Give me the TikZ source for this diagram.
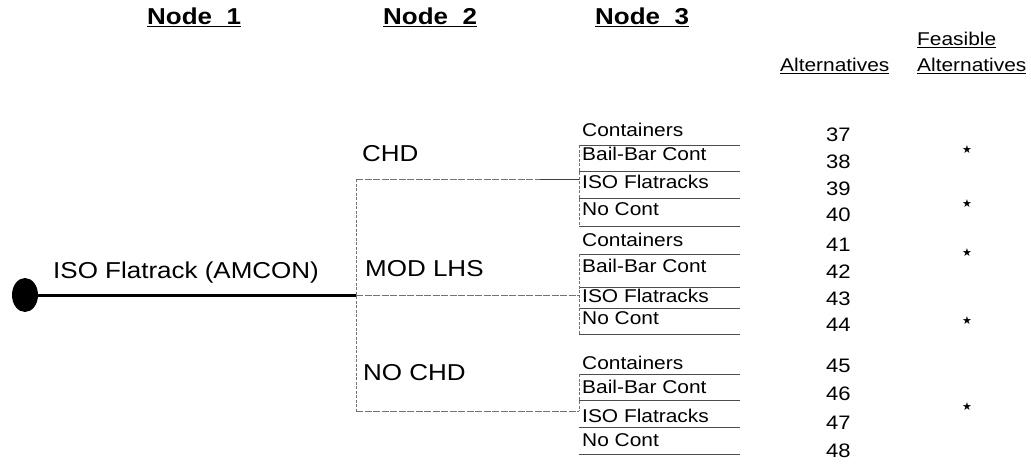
\documentclass[tikz,border=0pt]{standalone}
\usepackage{fontspec}
\setmainfont{Liberation Sans}[FakeStretch=1.13]
\newfontfamily\symf{DejaVu Sans}
\usetikzlibrary{shapes.geometric}
\begin{document}
\begin{tikzpicture}[x=1pt,y=-1pt,
  lbl/.style={inner sep=0pt, text height=0.716em, text depth=0pt, anchor=west},
  big/.style={lbl, font=\fontsize{23}{28}\selectfont},
  hdr/.style={lbl, font=\bfseries\fontsize{23}{28}\selectfont},
  sub/.style={lbl, font=\fontsize{18.5}{22}\selectfont},
  num/.style={lbl, font=\fontsize{19.5}{24}\selectfont},
  colh/.style={lbl, font=\fontsize{18.5}{22}\selectfont},
  starmark/.style={inner sep=0pt, font=\symf\fontsize{11}{12}\selectfont},
  branch/.style={draw=black!55, line width=0.7pt, dash pattern=on 7pt off 1.5pt},
  branchend/.style={draw=black!75, line width=0.8pt},
  stem/.style={draw=black!55, line width=0.6pt, dash pattern=on 3pt off 1.5pt},
  rulel/.style={draw=black!70, line width=0.7pt},
  trunk/.style={draw=black, line width=3pt},
]
\useasboundingbox (0,0) rectangle (1031,466);

% headers
\node[hdr] (h1) at (147,21) {\underline{Node~~1}};
\node[hdr] (h2) at (383,21) {\underline{Node~~2}};
\node[hdr] (h3) at (595,21) {\underline{Node~~3}};
\node[colh] (alt) at (780,68) {\underline{Alternatives}};
\node[colh] (fea) at (917,42) {\underline{Feasible}};
\node[colh] (falt) at (917,68) {\underline{Alternatives}};

% node 1
\node[ellipse, fill=black, inner sep=0pt, minimum width=26pt, minimum height=34pt] (dot) at (25,295) {};
\node[big] (n1) at (53,275) {ISO Flatrack (AMCON)};
\coordinate (j) at (356,295);
\draw[trunk] (dot) -- (j);

% node 2
\node[big] (chd) at (362,158) {CHD};
\node[big] (mod) at (365,273) {MOD LHS};
\node[big] (nochd) at (363,377) {NO CHD};
\coordinate (jt) at (356,179);
\coordinate (jb) at (356,411);
\coordinate (g1) at (579,179);
\coordinate (g1m) at (540,179);
\coordinate (g2) at (579,295);
\coordinate (g3) at (579,411);
\draw[stem] (jt) -- (jb);
\draw[branch] (jt) -- (g1m);
\draw[branchend] (g1m) -- (g1);
\draw[branch] (j) -- (g2);
\draw[branch] (jb) -- (g3);

% node 3 group 1
\node[sub] (a1) at (582,133) {Containers};
\node[sub] (a2) at (582,157) {Bail-Bar Cont};
\node[sub] (a3) at (582,185) {ISO Flatracks};
\node[sub] (a4) at (582,212) {No Cont};
\foreach \yy in {145,171,198,226} \draw[rulel] (579,\yy) -- (740,\yy);
\draw[stem] (579,145) -- (579,226);

% group 2
\node[sub] (b1) at (582,243) {Containers};
\node[sub] (b2) at (582,269) {Bail-Bar Cont};
\node[sub] (b3) at (582,299) {ISO Flatracks};
\node[sub] (b4) at (582,321) {No Cont};
\foreach \yy in {254,287,308,334} \draw[rulel] (579,\yy) -- (740,\yy);
\draw[stem] (579,254) -- (579,334);

% group 3
\node[sub] (c1) at (582,366) {Containers};
\node[sub] (c2) at (582,390) {Bail-Bar Cont};
\node[sub] (c3) at (582,419) {ISO Flatracks};
\node[sub] (c4) at (582,443) {No Cont};
\foreach \yy in {374,400,427,454} \draw[rulel] (579,\yy) -- (740,\yy);
\draw[stem] (579,374) -- (579,411);

% alternatives numbers
\node[num] (n37) at (826,138) {37};
\node[num] (n38) at (826,165) {38};
\node[num] (n39) at (826,192) {39};
\node[num] (n40) at (826,218) {40};
\node[num] (n41) at (826,248) {41};
\node[num] (n42) at (826,275) {42};
\node[num] (n43) at (826,302) {43};
\node[num] (n44) at (826,328) {44};
\node[num] (n45) at (826,369) {45};
\node[num] (n46) at (826,397) {46};
\node[num] (n47) at (826,426) {47};
\node[num] (n48) at (826,454) {48};

% feasible stars
\node[starmark] (s1) at (967,150) {★};
\node[starmark] (s2) at (967,204) {★};
\node[starmark] (s3) at (967,253) {★};
\node[starmark] (s4) at (967,321) {★};
\node[starmark] (s5) at (967,407) {★};
\end{tikzpicture}
\end{document}
